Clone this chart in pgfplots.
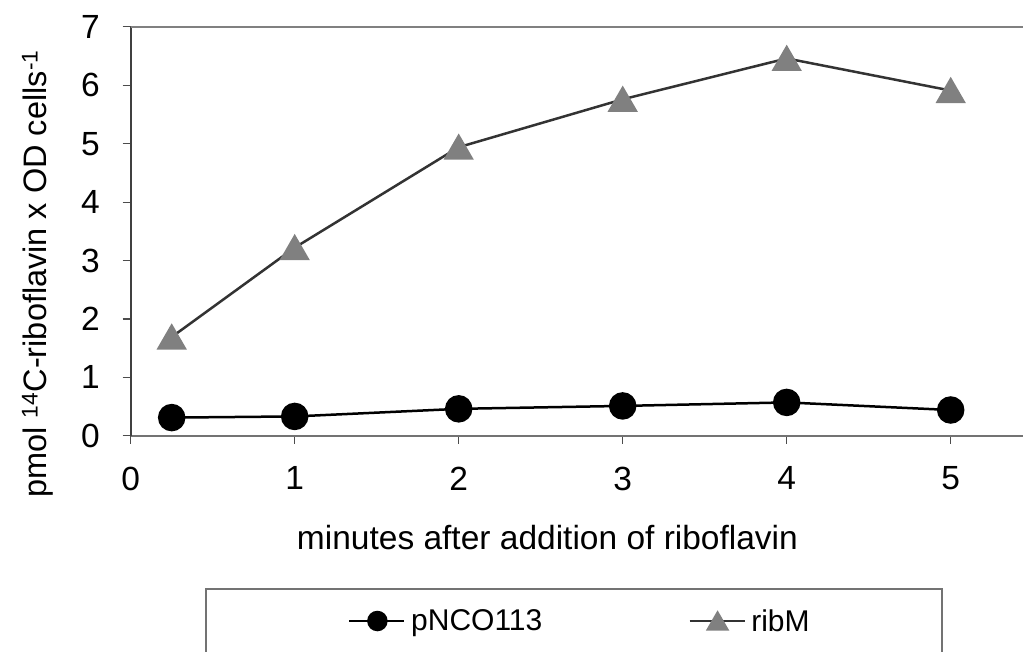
\documentclass[border=0pt]{standalone}
\usepackage{fontspec}
\setmainfont{Liberation Sans}
\usepackage{pgfplots}
\pgfplotsset{compat=1.18}
\definecolor{ribgray}{HTML}{808080}
\definecolor{linedark}{HTML}{333333}
\begin{document}
\begin{tikzpicture}
\begin{axis}[
  at={(0pt,0pt)}, anchor=origin,
  x=164pt, y=58.4pt,
  xmin=0, xmax=6, ymin=0, ymax=7,
  enlargelimits=false,
  clip=false,
  axis x line*=bottom, axis y line*=left,
  axis line style={-},
  x axis line style={color=black!55, line width=2pt},
  y axis line style={color=black!75, line width=2pt},
  xtick={0,1,2,3,4,5}, ytick={0,1,2,3,4,5,6,7},
  tick align=outside, major tick length=8pt,
  tick style={black!70, line width=1.2pt},
  /pgf/number format/assume math mode=true,
  ticklabel style={font=\fontsize{33.5}{40}\selectfont, inner sep=0pt},
  xticklabel style={yshift=-23pt},
  yticklabel style={xshift=-22.7pt},
  xlabel={minutes after addition of riboflavin},
  xlabel style={at={(axis cs:2.541,0)}, anchor=base, inner sep=0pt, yshift=-113.3pt, font=\fontsize{33.5}{40}\selectfont},
  ylabel={pmol \textsuperscript{14}C-riboflavin x OD cells\textsuperscript{-1}},
  ylabel style={at={(axis cs:-0.512,2.77)}, anchor=base, rotate=0, inner sep=0pt, font=\fontsize{32.5}{40}\selectfont},
  legend columns=2,
  legend style={at={(axis description cs:0.2208,-0.4533)}, anchor=west, draw=none, fill=none,
    inner sep=0pt, nodes={inner sep=0pt}, font=\fontsize{30}{34}\selectfont,
    /tikz/column sep=5.5pt,
    /tikz/every even column/.append style={column sep=146pt}},
  legend cell align=left,
]
\draw[black!50, line width=2pt] (axis cs:0,7) -- (axis cs:6,7);
\addplot[color=black, line width=2.5pt, mark=*, mark size=12.5pt, mark options={fill=black, draw=black},
  legend image code/.code={\draw[black, line width=2.5pt] (0pt,0pt) -- (55pt,0pt); \fill[black] (28pt,0pt) circle (9pt);}]
  coordinates {(0.25,0.31) (1,0.33) (2,0.46) (3,0.51) (4,0.57) (5,0.44)};
\addlegendentry{pNCO113}
\addplot[color=linedark, line width=2.5pt, mark=triangle*, mark size=15pt, mark options={fill=ribgray, draw=ribgray, yshift=-3.75pt},
  legend image code/.code={\draw[linedark, line width=2.5pt] (0pt,0pt) -- (55pt,0pt); \fill[ribgray] (28pt,-2.75pt) ++(0pt,11pt) -- ++(-9.53pt,-16.5pt) -- ++(19.05pt,0pt) -- cycle;}]
  coordinates {(0.25,1.69) (1,3.22) (2,4.94) (3,5.76) (4,6.46) (5,5.91)};
\addlegendentry{ribM}
\end{axis}
\draw[black!55, line width=1.5pt] (75.3pt,-153.3pt) rectangle (811.3pt,-240pt);
\pgfresetboundingbox
\path[use as bounding box] (-130.7pt,-215.3pt) rectangle (892.3pt,435.7pt);
\end{tikzpicture}
\end{document}
